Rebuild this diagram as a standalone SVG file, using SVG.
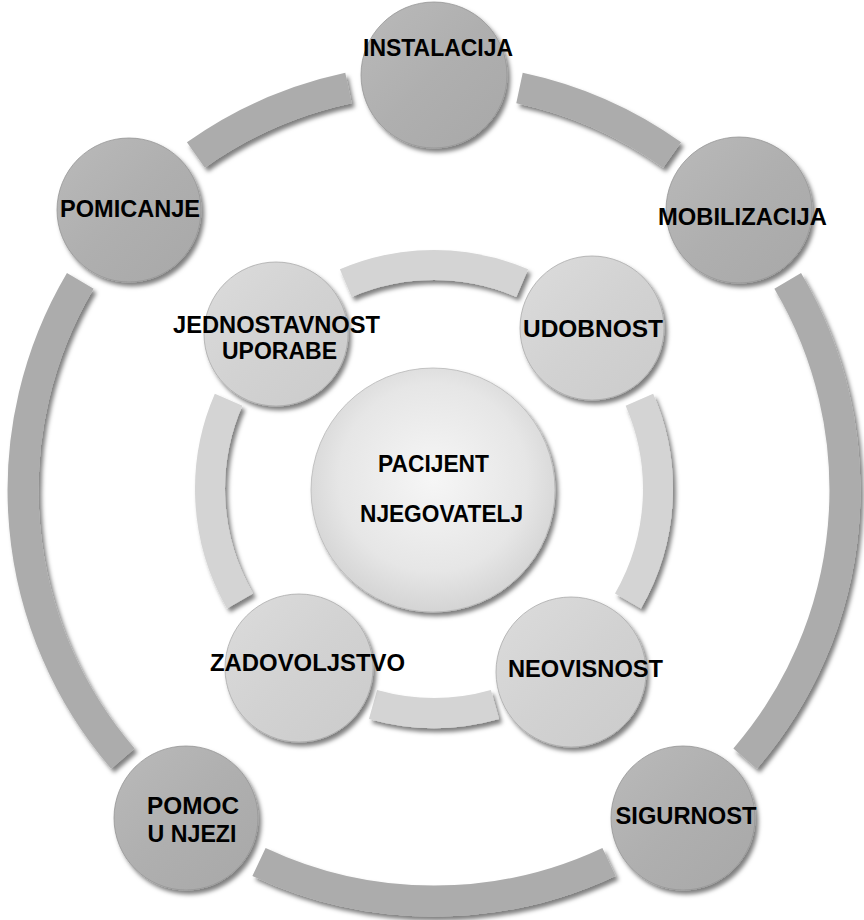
<svg xmlns="http://www.w3.org/2000/svg" width="864" height="920" viewBox="0 0 864 920">
<defs>
<filter id="sh" x="-20%" y="-20%" width="140%" height="140%">
<feDropShadow dx="3" dy="4" stdDeviation="2" flood-color="#000" flood-opacity="0.5"/>
</filter>
<linearGradient id="gOuter" x1="0" y1="0" x2="1" y2="1">
<stop offset="0" stop-color="#bababa"/>
<stop offset="0.5" stop-color="#afafaf"/>
<stop offset="1" stop-color="#a8a8a8"/>
</linearGradient>
<linearGradient id="gInner" x1="0" y1="0" x2="1" y2="1">
<stop offset="0" stop-color="#dcdcdc"/>
<stop offset="0.5" stop-color="#d2d2d2"/>
<stop offset="1" stop-color="#cbcbcb"/>
</linearGradient>
<radialGradient id="gCenter" cx="0.5" cy="0.45" r="0.55">
<stop offset="0" stop-color="#f6f6f6"/>
<stop offset="0.7" stop-color="#e6e6e6"/>
<stop offset="1" stop-color="#d4d4d4"/>
</radialGradient>
</defs>
<style>
.oarc{fill:none;stroke:#acacac;stroke-width:31;stroke-linecap:butt}
.iarc{fill:none;stroke:#d4d4d4;stroke-width:30;stroke-linecap:butt}
.on{fill:url(#gOuter);stroke:#959595;stroke-width:0.8}
.in{fill:url(#gInner);stroke:#ababab;stroke-width:0.8}
.cn{fill:url(#gCenter);stroke:#b8b8b8;stroke-width:0.8}
text{font-family:"Liberation Sans",Arial,sans-serif;font-weight:bold;font-size:24px;fill:#000;text-anchor:middle}
</style>
<rect width="864" height="920" fill="#fff"/>
<g id="connectors" filter="url(#sh)">
<path class="oarc" d="M195.9 155.0 A411 411 0 0 1 348.5 88.0"/>
<path class="oarc" d="M519.5 88.0 A411 411 0 0 1 672.1 155.0"/>
<path class="oarc" d="M787.7 280.8 A411 411 0 0 1 745.1 758.6"/>
<path class="oarc" d="M609.0 861.9 A411 411 0 0 1 259.0 861.9"/>
<path class="oarc" d="M122.9 758.6 A411 411 0 0 1 80.3 280.8"/>
<path class="iarc" d="M345.8 283.1 A224 224 0 0 1 522.2 283.1"/>
<path class="iarc" d="M639.4 399.7 A224 224 0 0 1 628.0 601.0"/>
<path class="iarc" d="M495.0 704.5 A224 224 0 0 1 373.0 704.5"/>
<path class="iarc" d="M240.0 601.0 A224 224 0 0 1 228.6 399.7"/>
</g>
<g id="instalacija"><circle class="on" cx="434" cy="75" r="73" filter="url(#sh)"/><text x="438" y="56" textLength="150" lengthAdjust="spacingAndGlyphs">INSTALACIJA</text></g>
<g id="mobilizacija"><circle class="on" cx="739" cy="210" r="73" filter="url(#sh)"/><text x="742.5" y="225" textLength="169" lengthAdjust="spacingAndGlyphs">MOBILIZACIJA</text></g>
<g id="sigurnost"><circle class="on" cx="683" cy="818" r="72" filter="url(#sh)"/><text x="686" y="824" textLength="141" lengthAdjust="spacingAndGlyphs">SIGURNOST</text></g>
<g id="pomoc"><circle class="on" cx="186" cy="818" r="72" filter="url(#sh)"/><text x="193" y="814" textLength="92" lengthAdjust="spacingAndGlyphs">POMOC</text><text x="192" y="842" textLength="89" lengthAdjust="spacingAndGlyphs">U NJEZI</text></g>
<g id="pomicanje"><circle class="on" cx="129" cy="210" r="72" filter="url(#sh)"/><text x="130" y="217" textLength="140" lengthAdjust="spacingAndGlyphs">POMICANJE</text></g>
<g id="jednostavnost"><circle class="in" cx="276" cy="334" r="72" filter="url(#sh)"/><text x="276.5" y="333" textLength="207" lengthAdjust="spacingAndGlyphs">JEDNOSTAVNOST</text><text x="279.5" y="359" textLength="115" lengthAdjust="spacingAndGlyphs">UPORABE</text></g>
<g id="udobnost"><circle class="in" cx="592" cy="328" r="72" filter="url(#sh)"/><text x="593" y="337" textLength="140" lengthAdjust="spacingAndGlyphs">UDOBNOST</text></g>
<g id="neovisnost"><circle class="in" cx="571" cy="672" r="75" filter="url(#sh)"/><text x="585.5" y="677" textLength="155" lengthAdjust="spacingAndGlyphs">NEOVISNOST</text></g>
<g id="zadovoljstvo"><circle class="in" cx="299" cy="668" r="74" filter="url(#sh)"/><text x="307.5" y="671" textLength="195" lengthAdjust="spacingAndGlyphs">ZADOVOLJSTVO</text></g>
<g id="centar"><circle class="cn" cx="433" cy="490" r="122" filter="url(#sh)"/><text x="433.5" y="472" textLength="111" lengthAdjust="spacingAndGlyphs">PACIJENT</text><text x="441.5" y="522" textLength="163" lengthAdjust="spacingAndGlyphs">NJEGOVATELJ</text></g>
</svg>
